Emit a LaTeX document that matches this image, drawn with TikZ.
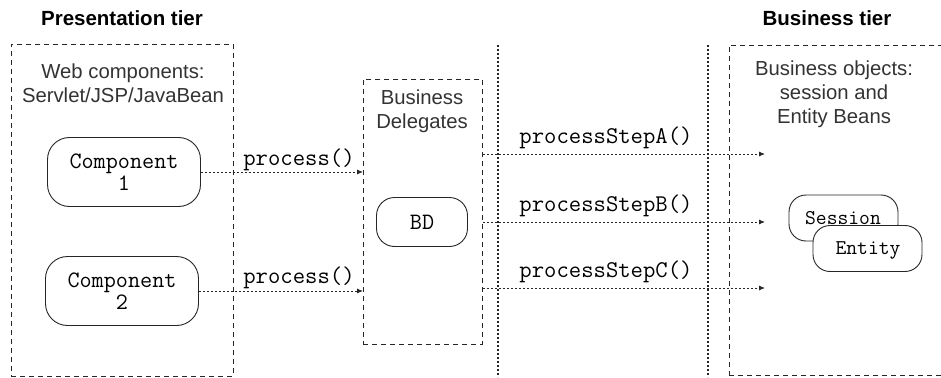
\documentclass[tikz,border=0pt]{standalone}
\usepackage{fontspec}
\setmainfont{Liberation Sans}
\usetikzlibrary{arrows.meta}
\begin{document}
\begin{tikzpicture}[x=1pt,y=-1pt,
  tierbox/.style={draw=black!85, dash pattern=on 5pt off 4pt, line width=0.9pt, inner sep=0pt, anchor=north west},
  tiertitle/.style={font=\bfseries\fontsize{20.5}{24}\selectfont, inner sep=0pt},
  bodytext/.style={font=\fontsize{20.3}{24}\selectfont, align=center, inner sep=0pt, text=black!80},
  comp/.style={draw=black!85, line width=0.9pt, rounded corners=22pt, minimum width=153pt, minimum height=69pt, inner sep=0pt, font=\ttfamily\fontsize{23.5}{22}\selectfont, align=center},
  bean/.style={draw=black!85, line width=0.9pt, rounded corners=17pt, fill=white, minimum width=109pt, minimum height=46pt, inner sep=0pt},
  beantext/.style={font=\ttfamily\fontsize{21}{22}\selectfont, inner sep=0pt},
  calltext/.style={font=\ttfamily\fontsize{24}{24}\selectfont, inner sep=0pt},
  callarrow/.style={draw=black!85, line width=0.9pt, dash pattern=on 1.6pt off 2.4pt, -{Latex[length=6pt,width=5pt]}},
  sepline/.style={draw=black!85, line width=1.3pt, dash pattern=on 2pt off 2pt}
]
\useasboundingbox (0,0) rectangle (941,377);
% titles
\node[tiertitle] (ptitle) at (122,18) {Presentation tier};
\node[tiertitle] (btitle) at (827,18) {Business tier};
% tier boxes
\node[tierbox, minimum width=222pt, minimum height=332pt] (pres) at (11,44) {};
\node[tierbox, minimum width=119pt, minimum height=265pt] (bdbox) at (363,79) {};
\node[tierbox, minimum width=230pt, minimum height=330pt] (bus) at (729,45) {};
% separator lines
\coordinate (s1t) at (498,45); \coordinate (s1b) at (498,377);
\coordinate (s2t) at (708,45); \coordinate (s2b) at (708,377);
\draw[sepline] (s1t) -- (s1b);
\draw[sepline] (s2t) -- (s2b);
% texts
\node[bodytext] (webtxt) at (123,83) {Web components:\\Servlet/JSP/JavaBean};
\node[bodytext] (bdtxt) at (422,111) {Business\\Delegates};
\node[bodytext] (botxt) at (834,94) {Business objects:\\session and\\Entity Beans};
% components
\node[comp] (c1) at (124,172) {Component\\1};
\node[comp] (c2) at (122,291) {Component\\2};
\node[comp, minimum width=91pt, minimum height=49pt, rounded corners=18pt] (bd) at (422,222) {BD};
% beans
\node[bean] (session) at (843.5,218) {};
\node[beantext] (sessiontxt) at (843,218) {Session};
\node[bean] (entity) at (867.5,248.5) {};
\node[beantext] (entitytxt) at (868,250) {Entity};
% calls
\draw[callarrow] (c1.east) -- (c1.east -| bdbox.west);
\draw[callarrow] (c2.east) -- (c2.east -| bdbox.west);
\node[calltext] (p1) at (299,160) {process()};
\node[calltext] (p2) at (299,278) {process()};
\coordinate (aA) at (765,154);
\coordinate (aB) at (765,222);
\coordinate (aC) at (765,288);
\draw[callarrow] (bdbox.east |- aA) -- (aA);
\draw[callarrow] (bdbox.east |- aB) -- (aB);
\draw[callarrow] (bdbox.east |- aC) -- (aC);
\node[calltext] (pA) at (606,138) {processStepA()};
\node[calltext] (pB) at (606,206) {processStepB()};
\node[calltext] (pC) at (606,272) {processStepC()};
\end{tikzpicture}
\end{document}
